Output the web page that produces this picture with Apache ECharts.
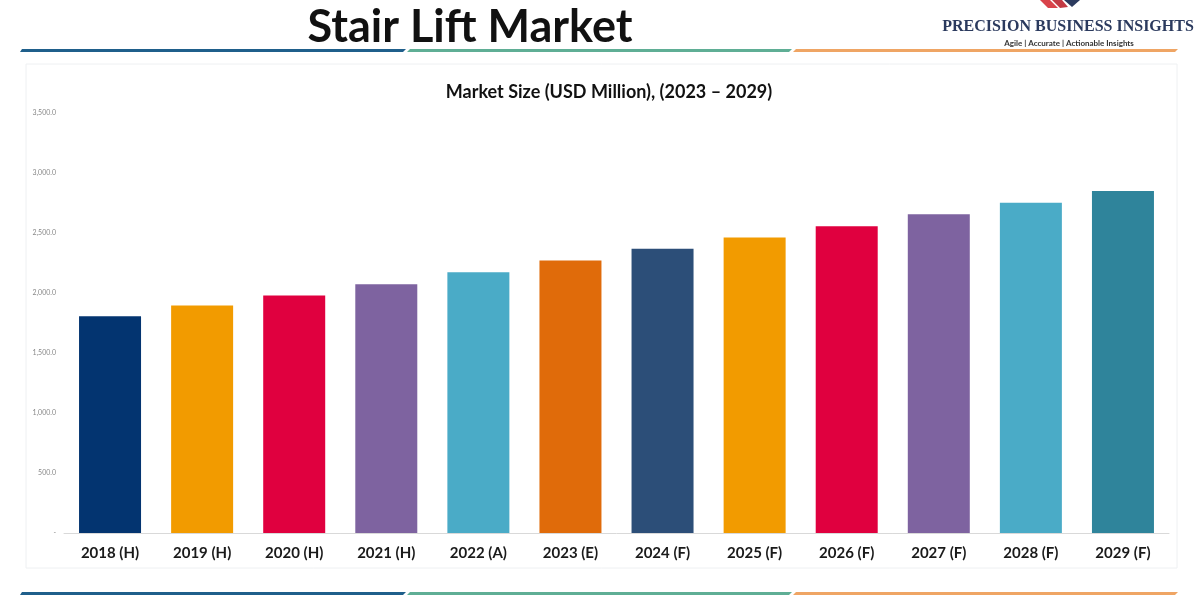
<!DOCTYPE html>
<html lang="en">
<head>
  <meta charset="UTF-8">
  <title>Stair Lift Market</title>
  <style>
    html, body { margin: 0; padding: 0; background: #fff; }
    #root { width: 1200px; height: 600px; }
  </style>
</head>
<body>
  <div id="root"></div>
</body>
<script src="https://cdn.jsdelivr.net/npm/echarts@6/dist/echarts.min.js"></script>
<script>
  // values (USD Million)
  const years = ['2018 (H)', '2019 (H)', '2020 (H)', '2021 (H)', '2022 (A)', '2023 (E)',
    '2024 (F)', '2025 (F)', '2026 (F)', '2027 (F)', '2028 (F)', '2029 (F)']
  const marketSize = [1806, 1895, 1979, 2072, 2172, 2270, 2369, 2463, 2557, 2657, 2752, 2851]
  const barColors = ['#033470', '#f29b00', '#e0003f', '#7e63a0', '#4aabc7', '#e06b0a',
    '#2c4e78', '#f29b00', '#e0003f', '#7e63a0', '#4aabc7', '#2f849b']
  const yTicks = [0, 500, 1000, 1500, 2000, 2500, 3000, 3500]

  let myChart = echarts.init(document.getElementById('root'))

  function fmt(v) {
    if (v === 0) return '-'
    return v.toLocaleString('en-US', { minimumFractionDigits: 1, maximumFractionDigits: 1 })
  }

  // decorative header / footer stripes
  function stripes(y) {
    return [
      { type: 'polygon', shape: { points: [[22, y], [406, y], [403, y + 3], [20, y + 3]] }, style: { fill: '#1f5f8b' } },
      { type: 'polygon', shape: { points: [[410, y], [792, y], [789, y + 3], [407, y + 3]] }, style: { fill: '#5fae95' } },
      { type: 'polygon', shape: { points: [[796, y], [1178, y], [1175, y + 3], [793, y + 3]] }, style: { fill: '#efa564' } }
    ]
  }

  let option = {
    backgroundColor: '#fff',
    title: [
      {
        text: 'Stair Lift Market',
        left: 465, top: 0, textAlign: 'center',
        textStyle: { fontFamily: 'Lato', fontWeight: 'bold', fontSize: 45, color: '#111' }
      },
      {
        text: 'PRECISION BUSINESS INSIGHTS',
        left: 1063, top: 14, textAlign: 'center',
        textStyle: { fontFamily: 'Liberation Serif', fontWeight: 'bold', fontSize: 16, color: '#2b3a5e' }
      },
      {
        text: 'Agile | Accurate | Actionable Insights',
        left: 1064, top: 34, textAlign: 'center',
        textStyle: { fontFamily: 'Lato', fontSize: 8, color: '#333' }
      },
      {
        text: 'Market Size (USD Million), (2023 \u2013 2029)',
        left: 604, top: 78, textAlign: 'center',
        textStyle: { fontFamily: 'Lato', fontWeight: 'bold', fontSize: 18, color: '#111' }
      }
    ],
    graphic: [
      // chart panel
      { type: 'rect', shape: { x: 26, y: 64, width: 1151, height: 504 }, style: { fill: 'none', stroke: '#eef0f2', lineWidth: 1 } },
      // logo mark
      { type: 'polygon', shape: { points: [[1040, 0], [1050, 0], [1058, 8], [1048, 8]] }, style: { fill: '#d9434a' } },
      { type: 'polygon', shape: { points: [[1052, 0], [1062, 0], [1068, 7], [1060, 8]] }, style: { fill: '#c23a44' } },
      { type: 'polygon', shape: { points: [[1064, 0], [1080, 0], [1072, 7]] }, style: { fill: '#2b3a5e' } },
      ...stripes(49),
      ...stripes(592)
    ],
    grid: { left: 64, right: 31, top: 113, bottom: 67 },
    xAxis: {
      type: 'category',
      data: years,
      axisLine: { lineStyle: { color: '#d9d9d9' } },
      axisTick: { show: false },
      axisLabel: { fontFamily: 'Lato', fontWeight: 'bold', fontSize: 15, color: '#1a1a1a', margin: 13 }
    },
    yAxis: {
      type: 'value',
      min: 0, max: 3500, interval: 500,
      splitLine: { show: false },
      axisLine: { show: false },
      axisTick: { show: false },
      axisLabel: {
        fontFamily: 'Lato', fontSize: 7, color: '#888', margin: 8,
        formatter: v => yTicks.includes(v) ? fmt(v) : ''
      }
    },
    series: [
      {
        type: 'bar',
        barWidth: 62,
        data: marketSize.map((v, i) => ({ value: v, itemStyle: { color: barColors[i] } }))
      }
    ]
  }

  myChart.setOption(option)
</script>
</html>
